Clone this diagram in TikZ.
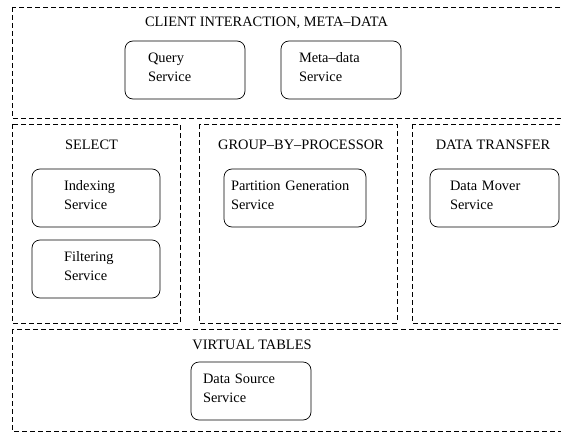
\documentclass[tikz,border=0pt]{standalone}
\usepackage{fontspec}
\setmainfont{Liberation Serif}
\tikzset{
    layer/.style={draw, dash pattern=on 5pt off 3pt, line width=0.7pt},
    service/.style={draw, rounded corners=8pt, line width=0.7pt, anchor=north west, align=left,
        minimum height=58pt, outer sep=0pt, text depth=25pt, font=\fontsize{14.4}{19}\selectfont},
    heading/.style={font=\fontsize{14.4}{19}\selectfont}
}

\begin{document}
\begin{tikzpicture}[x=1pt, y=-1pt]
    \useasboundingbox (0,0) rectangle (561,433);
    \clip (0,0) rectangle (561,433);
    % layers
    \draw[layer] (12,7) rectangle (575,118);
    \draw[layer] (12,124) rectangle (180,323);
    \draw[layer] (199,124) rectangle (397,323);
    \draw[layer] (412,124) rectangle (575,323);
    \draw[layer] (12,329) rectangle (575,431);
    % headings
    \node[heading] (client) at (266.5,23) {CLIENT INTERACTION, META--DATA};
    \node[heading] (select) at (91.5,145) {SELECT};
    \node[heading] (groupby) at (301,145) {GROUP--BY--PROCESSOR};
    \node[heading] (transfer) at (493,145) {DATA TRANSFER};
    \node[heading] (virtual) at (252,345) {VIRTUAL TABLES};
    % services
    \node[service, minimum width=120pt, text width=74pt, inner xsep=23pt] (query) at (125,41) {Query\\Service};
    \node[service, minimum width=120pt, text width=84pt, inner xsep=18pt] (metadata) at (281,41) {Meta--data\\Service};
    \node[service, minimum width=128pt, text width=64pt, inner xsep=32pt] (indexing) at (32,169) {Indexing\\Service};
    \node[service, minimum width=128pt, text width=64pt, inner xsep=32pt] (filtering) at (32,240) {Filtering\\Service};
    \node[service, minimum width=142pt, text width=128pt, inner xsep=7pt] (partition) at (224,169) {Partition Generation\\Service};
    \node[service, minimum width=129pt, text width=89pt, inner xsep=20pt] (mover) at (430,169) {Data Mover\\Service};
    \node[service, minimum width=120pt, text width=96pt, inner xsep=12pt] (source) at (191,362) {Data Source\\Service};
\end{tikzpicture}
\end{document}
